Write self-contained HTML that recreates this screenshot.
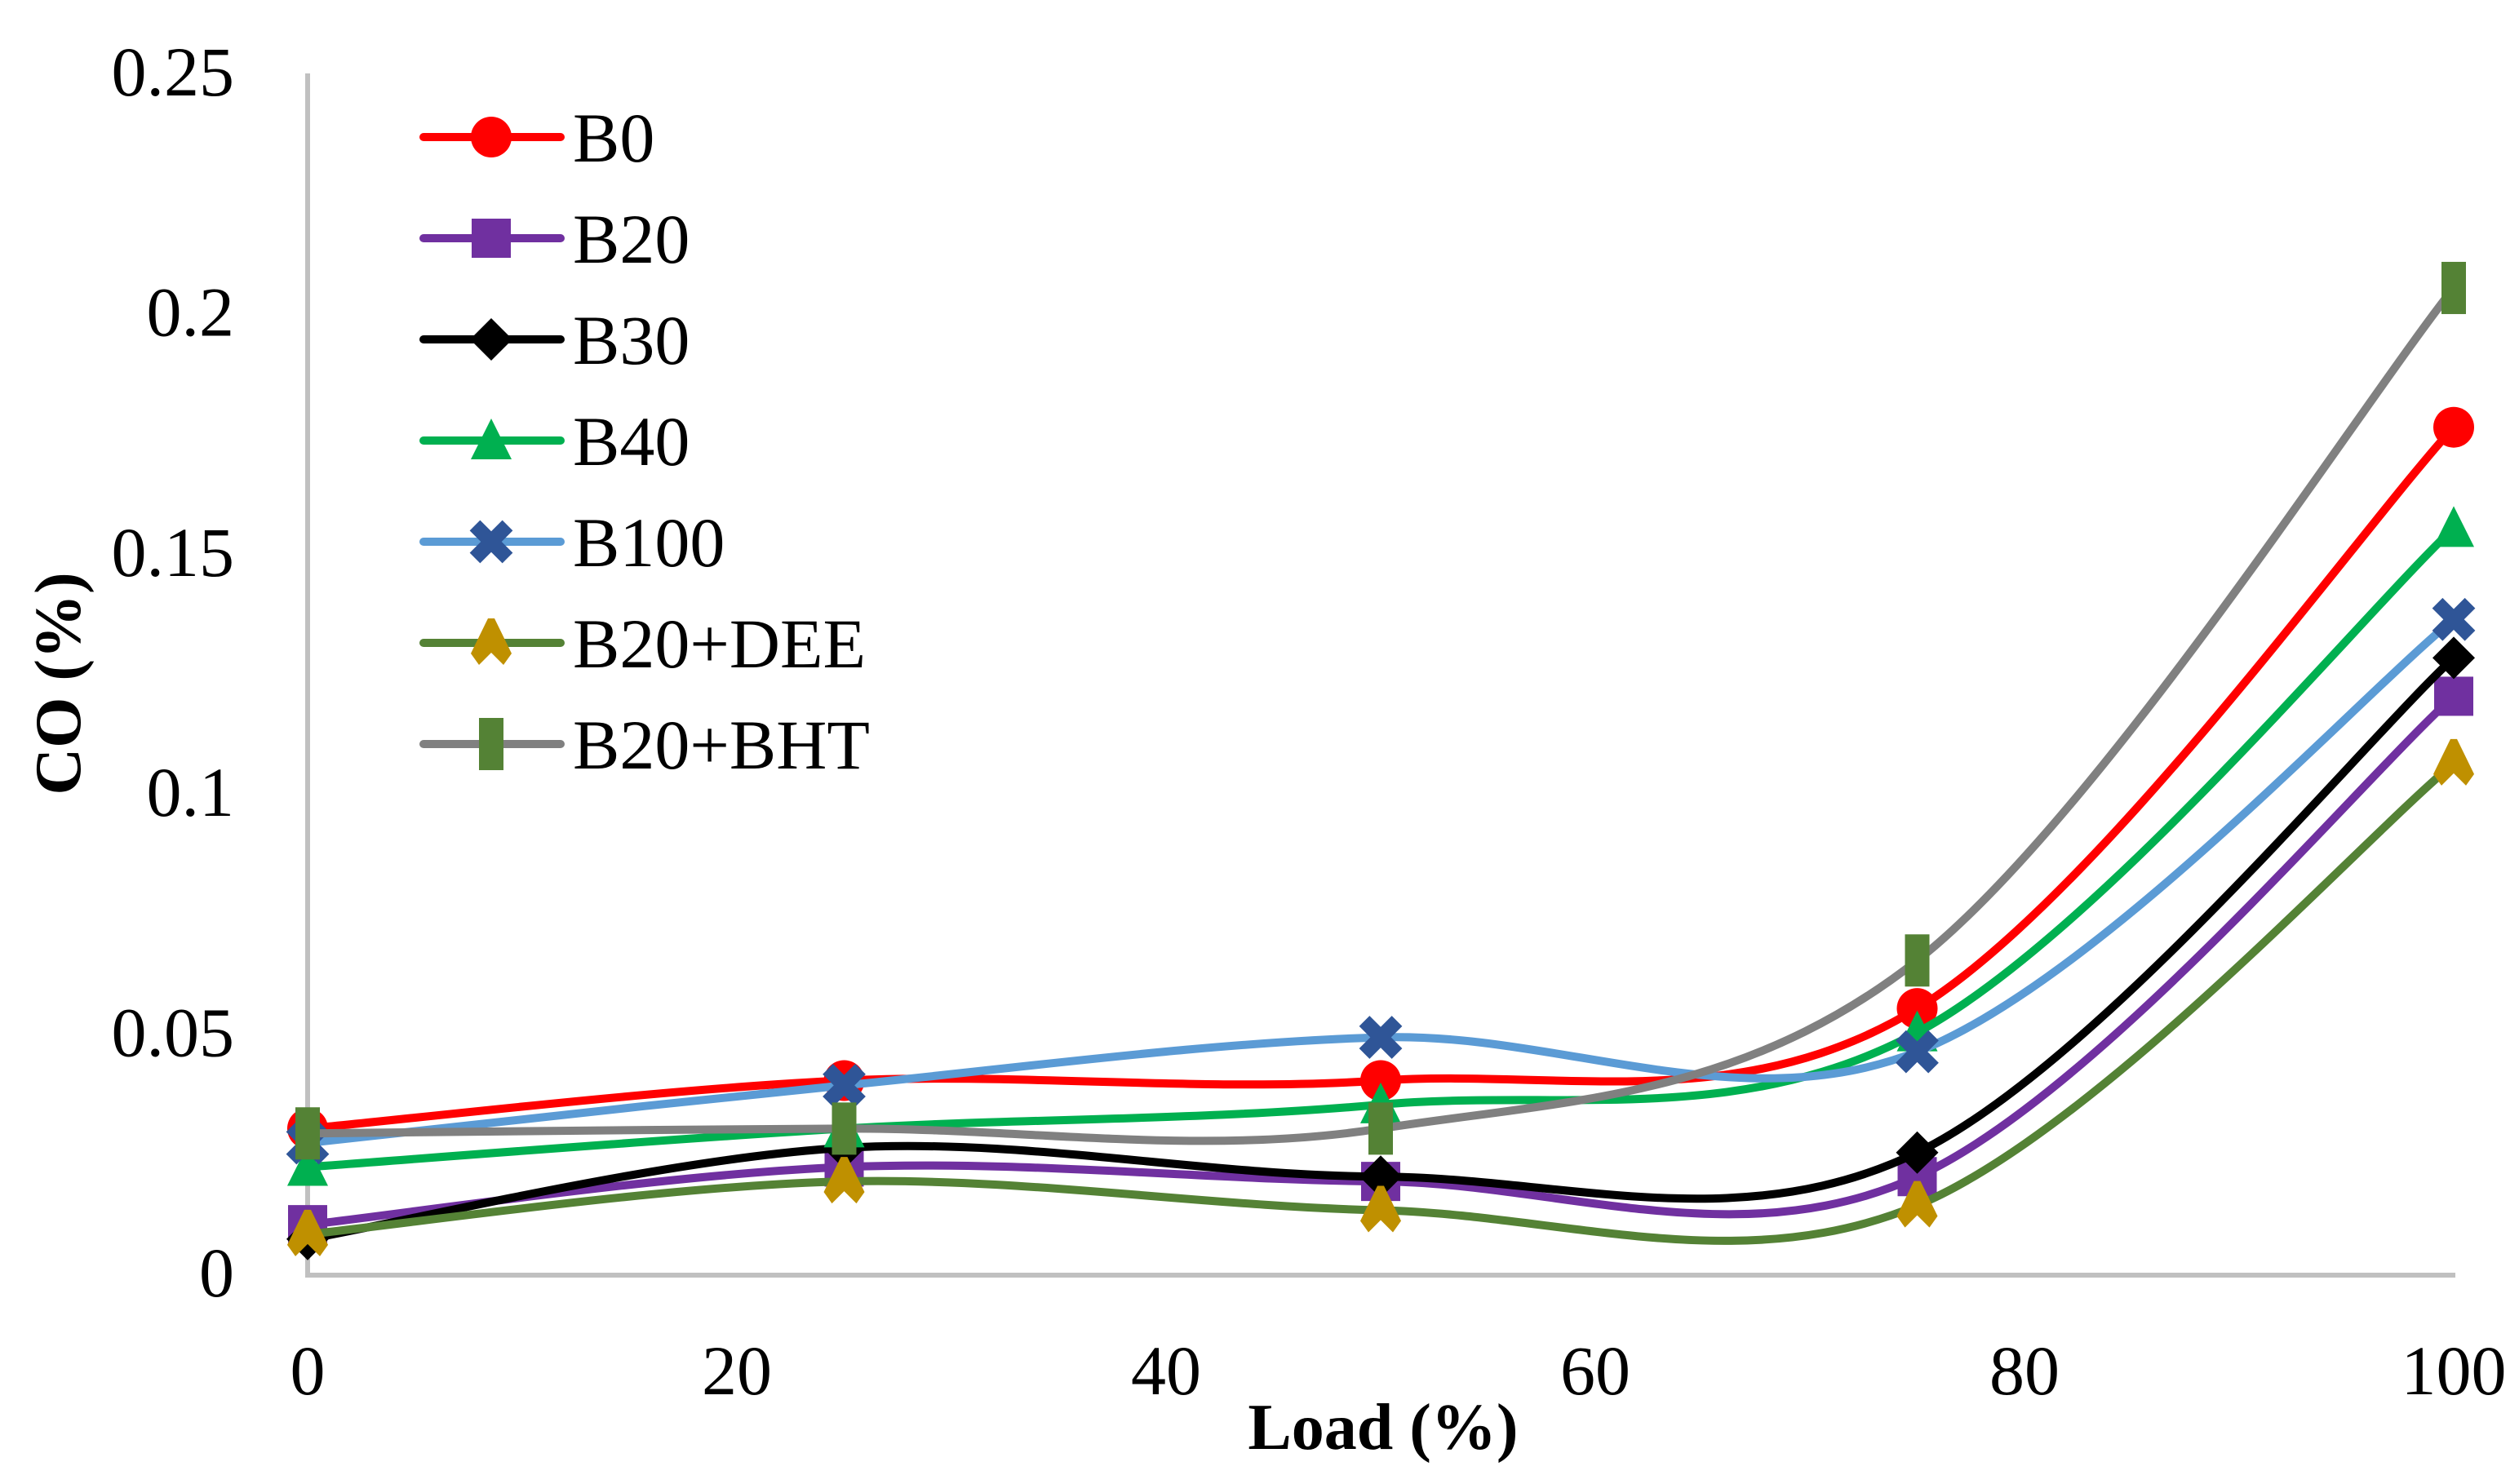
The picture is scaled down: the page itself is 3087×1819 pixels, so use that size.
<!DOCTYPE html>
<html><head><meta charset="utf-8"><style>
html,body{margin:0;padding:0;background:#fff;}
svg{display:block;font-family:"Liberation Serif",serif;}
</style></head><body>
<svg id="chart" width="3087" height="1819" viewBox="0 0 3087 1819" xmlns="http://www.w3.org/2000/svg">
<g id="axes"></g><g id="series"></g><g id="legend"></g>
</svg>
<script>
const loads = [0, 25, 50, 75, 100];
const seriesNames = ["B0","B20","B30","B40","B100","B20+DEE","B20+BHT"];
const b0 = [0.030, 0.040, 0.040, 0.055, 0.176];
const b20 = [0.010, 0.022, 0.019, 0.020, 0.120];
const b30 = [0.007, 0.026, 0.020, 0.025, 0.128];
const b40 = [0.022, 0.030, 0.035, 0.050, 0.155];
const b100 = [0.027, 0.039, 0.049, 0.046, 0.136];
const b20dee = [0.008, 0.019, 0.013, 0.014, 0.106];
const b20bht = [0.029, 0.030, 0.030, 0.065, 0.205];
const yTicks = [0, 0.05, 0.1, 0.15, 0.2, 0.25];
const yTickLabels = ["0","0.05","0.1","0.15","0.2","0.25"];
const xTicks = [0, 20, 40, 60, 80, 100];

const NS="http://www.w3.org/2000/svg";
const X0=377, X1=3007, Y0=1560, Y1=88;
const xs=v=>X0+(v/100)*(X1-X0);
const ys=v=>Y0-(v/0.25)*(Y0-Y1);
function mk(tag,attrs,parent){const e=document.createElementNS(NS,tag);for(const k in attrs)e.setAttribute(k,attrs[k]);parent.appendChild(e);return e;}
const axes=document.getElementById('axes'), sg=document.getElementById('series'), lg=document.getElementById('legend');

let a=mk('line',{x1:X0,y1:90,x2:X0,y2:Y0+6,stroke:'#c0c0c0','stroke-width':6},axes);

a=mk('line',{x1:X0-3,y1:Y0+3,x2:X1+2,y2:Y0+3,stroke:'#c0c0c0','stroke-width':6},axes);

yTicks.forEach((v,i)=>{const t=mk('text',{x:287,y:ys(v)+29,'font-size':86,'text-anchor':'end',fill:'#000'},axes);t.textContent=yTickLabels[i];
});
xTicks.forEach(v=>{const t=mk('text',{x:xs(v),y:1709,'font-size':86,'text-anchor':'middle',fill:'#000'},axes);t.textContent=String(v);
});
let t=mk('text',{x:1695,y:1776,'font-size':80,'font-weight':'bold','text-anchor':'middle'},axes);t.textContent='Load (%)';

t=mk('text',{x:0,y:0,'font-size':80,'font-weight':'bold','text-anchor':'middle',transform:'translate(98,838) rotate(-90)'},axes);t.textContent='CO (%)';


const defs=[
 {d:b0,c:'#ff0000',m:'circle',mc:'#ff0000'},
 {d:b20,c:'#7030a0',m:'square',mc:'#7030a0'},
 {d:b30,c:'#000000',m:'diamond',mc:'#000000'},
 {d:b40,c:'#00b050',m:'triangle',mc:'#00b050'},
 {d:b100,c:'#5b9bd5',m:'x',mc:'#2f5597'},
 {d:b20dee,c:'#548235',m:'star',mc:'#bf9000'},
 {d:b20bht,c:'#808080',m:'bar',mc:'#548235'}
];
function smooth(p){let s=`M${p[0][0]},${p[0][1]}`;for(let i=0;i<p.length-1;i++){const p0=p[Math.max(0,i-1)],p1=p[i],p2=p[i+1],p3=p[Math.min(p.length-1,i+2)];
const c1=[p1[0]+(p2[0]-p0[0])/6,p1[1]+(p2[1]-p0[1])/6],c2=[p2[0]-(p3[0]-p1[0])/6,p2[1]-(p3[1]-p1[1])/6];
s+=` C${c1[0]},${c1[1]} ${c2[0]},${c2[1]} ${p2[0]},${p2[1]}`;}return s;}
function marker(type,x,y,col,parent){let e;
 if(type==='circle')e=mk('circle',{cx:x,cy:y,r:25,fill:col},parent);
 else if(type==='square')e=mk('rect',{x:x-24,y:y-24,width:48,height:48,fill:col},parent);
 else if(type==='diamond')e=mk('polygon',{points:`${x},${y-26} ${x+26},${y} ${x},${y+26} ${x-26},${y}`,fill:col},parent);
 else if(type==='triangle')e=mk('polygon',{points:`${x},${y-27} ${x+25},${y+23} ${x-25},${y+23}`,fill:col},parent);
 else if(type==='x')e=mk('path',{d:`M${x-20},${y-20}L${x+20},${y+20}M${x+20},${y-20}L${x-20},${y+20}`,stroke:col,'stroke-width':18},parent);
 else if(type==='star')e=mk('polygon',{points:`${x-4},${y-30} ${x+4},${y-30} ${x+25},${y+13} ${x+15},${y+27} ${x},${y+12} ${x-15},${y+27} ${x-25},${y+13}`,fill:col},parent);
 else e=mk('rect',{x:x-15,y:y-32,width:30,height:64,fill:col},parent);
 return e;}
defs.forEach((s,si)=>{
 const g=mk('g',{},sg);
 const pts=loads.map((l,i)=>[xs(l),ys(s.d[i])]);
 const p=mk('path',{d:smooth(pts),fill:'none',stroke:s.c,'stroke-width':10,'stroke-linecap':'round'},g);
 
 pts.forEach(pt=>{const m=marker(s.m,pt[0],pt[1],s.mc,g);
  });
 const ly=168+si*124;
 const lgi=mk('g',{},lg);
 mk('line',{x1:519,y1:ly,x2:687,y2:ly,stroke:s.c,'stroke-width':10,'stroke-linecap':'round'},lgi);
 marker(s.m,602,ly,s.mc,lgi);
 const lt=mk('text',{x:702,y:ly+30,'font-size':86,fill:'#000'},lgi);lt.textContent=seriesNames[si];
});
</script>
</body></html>
